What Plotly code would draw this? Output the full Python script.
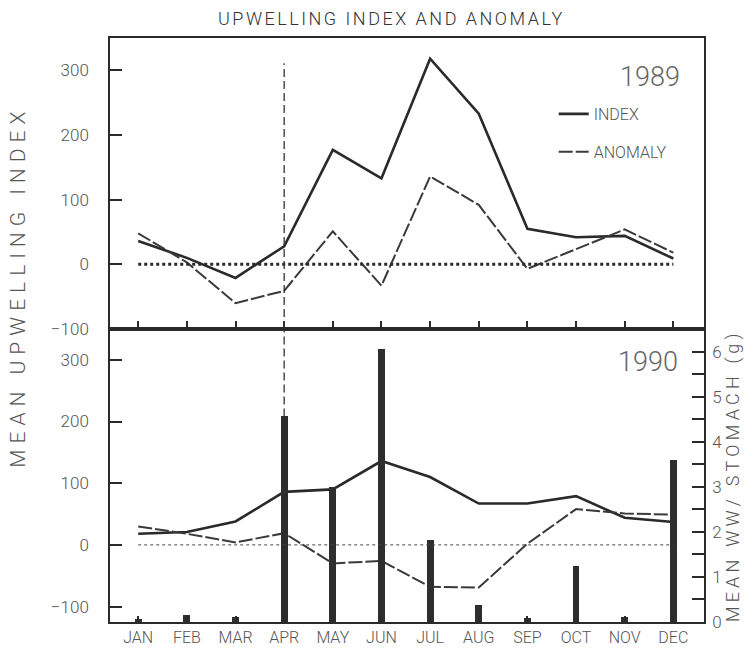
import plotly.graph_objects as go

months = ["JAN", "FEB", "MAR", "APR", "MAY", "JUN", "JUL", "AUG", "SEP", "OCT", "NOV", "DEC"]

# 1989 upwelling index and anomaly
index_1989 = [36, 10, -21, 28, 177, 133, 318, 233, 55, 42, 44, 9]
anomaly_1989 = [48, 3, -60, -41, 51, -33, 136, 92, -7, 23, 54, 18]

# 1990 upwelling index and anomaly
index_1990 = [18, 21, 38, 86, 90, 136, 110, 67, 67, 79, 44, 37]
anomaly_1990 = [30, 18, 4, 19, -30, -26, -68, -69, 2, 58, 51, 49]

# 1990 mean wet weight per stomach (g)
ww_1990 = [0.07, 0.15, 0.10, 4.56, 3.0, 6.06, 1.82, 0.38, 0.09, 1.24, 0.10, 3.59]

left_ticks = [-100, 0, 100, 200, 300]
right_ticks = [0, 1, 2, 3, 4, 5, 6]
marker_month = "APR"
marker_top_1989 = 311

INK = "#2a2a2a"
GREY = "#555555"
FONT = "Roboto, 'DejaVu Sans', sans-serif"


def spaced(text, px):
    return f'<span style="letter-spacing:{px}px">{text}</span>'


fig = go.Figure()

# top panel (1989)
fig.add_trace(go.Scatter(x=months, y=index_1989, mode="lines", name="INDEX",
                         line=dict(color=INK, width=2.6), xaxis="x", yaxis="y",
                         legendgroup="a"))
fig.add_trace(go.Scatter(x=months, y=anomaly_1989, mode="lines", name="ANOMALY",
                         line=dict(color="#3a3a3a", width=2, dash="14px,3px"),
                         xaxis="x", yaxis="y", legendgroup="b"))

# bottom panel (1990)
fig.add_trace(go.Scatter(x=months, y=index_1990, mode="lines", showlegend=False,
                         line=dict(color=INK, width=2.6), xaxis="x2", yaxis="y2"))
fig.add_trace(go.Scatter(x=months, y=anomaly_1990, mode="lines", showlegend=False,
                         line=dict(color="#3a3a3a", width=2, dash="14px,3px"),
                         xaxis="x2", yaxis="y2"))
fig.add_trace(go.Bar(x=months, y=ww_1990, width=0.14, marker=dict(color="#2e2e2e", line=dict(width=0)),
                     showlegend=False, xaxis="x2", yaxis="y3"))

split = 0.5017
axis_common = dict(showline=True, linecolor=INK, linewidth=1.5, showgrid=False, zeroline=False,
                   ticks="inside", tickcolor=INK, tickwidth=1.5, automargin=False,
                   tickfont=dict(family=FONT, size=17, color=GREY, weight=300))

fig.update_layout(
    width=745, height=650,
    margin=dict(l=110, r=41, t=38, b=28),
    paper_bgcolor="white", plot_bgcolor="white",
    bargap=0,
    xaxis=dict(domain=[0, 1], anchor="y", type="category", categoryorder="array", categoryarray=months,
               range=[-0.58, 11.63], showticklabels=False, ticklen=8, mirror=True, **axis_common),
    yaxis=dict(domain=[split, 1], anchor="x", range=[-100, 350], tickvals=left_ticks,
               ticklen=12, mirror=True, ticklabelstandoff=16, **axis_common),
    xaxis2=dict(domain=[0, 1], anchor="y2", type="category", categoryorder="array", categoryarray=months,
                range=[-0.58, 11.63], ticklen=6, mirror=True, ticklabelstandoff=0, **axis_common),
    yaxis2=dict(domain=[0, split], anchor="x2", range=[-125, 350], tickvals=left_ticks,
                ticklen=12, mirror=True, ticklabelstandoff=16, **axis_common),
    yaxis3=dict(overlaying="y2", anchor="x2", side="right", range=[0, 6.5], tickvals=right_ticks,
                ticklen=12, ticklabelstandoff=3,
                minor=dict(dtick=0.5, ticks="inside", ticklen=12, tickcolor=INK, tickwidth=1.5),
                **axis_common),
    legend=dict(x=0.747, y=0.899, xanchor="left", yanchor="top", bgcolor="rgba(0,0,0,0)",
                font=dict(family=FONT, size=16, color=GREY, weight=300),
                traceorder="grouped", tracegroupgap=14),
    showlegend=True,
)
fig.update_xaxes(selector=dict(anchor="y2"), tickfont=dict(size=16))

# zero reference lines
fig.add_shape(type="line", xref="x", yref="y", x0=months[0], x1=months[-1], y0=0, y1=0,
              line=dict(color=INK, width=3, dash="dot"))
fig.add_shape(type="line", xref="x2", yref="y2", x0=months[0], x1=months[-1], y0=0, y1=0,
              line=dict(color="#444", width=1, dash="dot"))

# vertical dashed marker at APR through both panels
fig.add_shape(type="line", xref="x", yref="y", x0=marker_month, x1=marker_month,
              y0=-100, y1=marker_top_1989, line=dict(color="#333", width=1.3, dash="8px,4px"))
fig.add_shape(type="line", xref="x2", yref="y3", x0=marker_month, x1=marker_month,
              y0=ww_1990[months.index(marker_month)], y1=6.5,
              line=dict(color="#333", width=1.3, dash="8px,4px"))

fig.add_annotation(text=spaced("UPWELLING INDEX AND ANOMALY", 2.5), xref="paper", yref="paper",
                   x=0.4747, y=1.034, showarrow=False, xanchor="center", yanchor="middle",
                   font=dict(family=FONT, size=18, color="#333", weight=300))
fig.add_annotation(text=spaced("MEAN UPWELLING INDEX", 6), xref="paper", yref="paper",
                   x=-0.155, y=0.574, showarrow=False, textangle=-90, xanchor="center", yanchor="middle",
                   font=dict(family=FONT, size=21, color=GREY, weight=300))
fig.add_annotation(text=spaced("MEAN WW/ STOMACH (g)", 4.2), xref="paper", yref="paper",
                   x=1.049, y=0.25, showarrow=False, textangle=-90, xanchor="center", yanchor="middle",
                   font=dict(family=FONT, size=18, color=GREY, weight=300))
fig.add_annotation(text="1989", xref="paper", yref="paper", x=0.963, y=0.933, showarrow=False,
                   xanchor="right", yanchor="middle", font=dict(family=FONT, size=27, color="#666", weight=300))
fig.add_annotation(text="1990", xref="paper", yref="paper", x=0.9596, y=0.445, showarrow=False,
                   xanchor="right", yanchor="middle", font=dict(family=FONT, size=27, color="#666", weight=300))

fig.write_html("out.html")
